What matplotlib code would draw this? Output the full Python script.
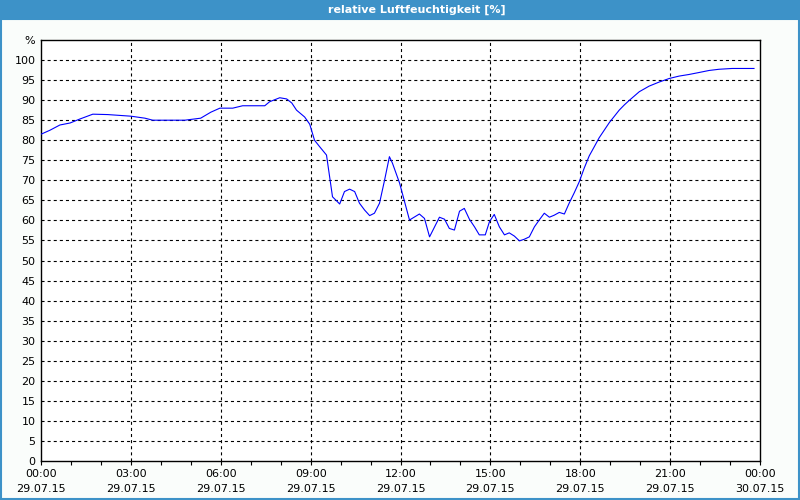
import matplotlib
matplotlib.use("Agg")
import matplotlib.pyplot as plt
from matplotlib.patches import Rectangle

# Relative humidity, 29.07.15 (hours since midnight, %)
hours = [0.0, 0.3, 0.63, 0.97, 1.3, 1.73, 2.23, 3.0, 3.47, 3.73, 4.8, 5.33,
         5.67, 5.97, 6.4, 6.73, 7.47, 7.63, 7.97, 8.2, 8.37, 8.53, 8.8, 8.97,
         9.13, 9.3, 9.53, 9.73, 9.97, 10.13, 10.3, 10.47, 10.63, 10.8, 10.97,
         11.13, 11.3, 11.47, 11.63, 11.73, 11.97, 12.3, 12.63, 12.8, 12.97,
         13.3, 13.47, 13.63, 13.8, 13.97, 14.13, 14.3, 14.47, 14.63, 14.83,
         14.97, 15.13, 15.3, 15.47, 15.63, 15.8, 15.97, 16.13, 16.3, 16.47,
         16.63, 16.8, 16.97, 17.13, 17.3, 17.47, 17.63, 17.8, 17.97, 18.13,
         18.3, 18.47, 18.63, 18.8, 18.97, 19.13, 19.3, 19.47, 19.63, 19.97,
         20.3, 20.63, 20.97, 21.3, 21.63, 21.97, 22.3, 22.63, 23.07, 23.8]
humidity = [81.5, 82.5, 83.8, 84.3, 85.3, 86.5, 86.4, 86.0, 85.5, 85.0, 85.0, 85.5,
            87.0, 88.0, 88.0, 88.6, 88.6, 89.6, 90.6, 90.3, 89.3, 87.5, 85.8, 84.0,
            80.0, 78.4, 76.3, 65.9, 64.1, 67.2, 67.8, 67.2, 64.3, 62.6, 61.2,
            61.8, 64.3, 70.1, 75.9, 74.3, 69.3, 60.1, 61.6, 60.5, 55.9,
            60.8, 60.3, 58.0, 57.6, 62.3, 63.0, 60.3, 58.4, 56.4, 56.4,
            59.7, 61.5, 58.4, 56.4, 56.9, 56.1, 54.9, 55.3, 55.9, 58.4,
            60.1, 61.8, 60.8, 61.3, 62.0, 61.6, 64.3, 66.9, 69.7, 73.0,
            76.1, 78.4, 80.6, 82.5, 84.4, 85.9, 87.5, 88.8, 89.9, 92.1,
            93.5, 94.5, 95.4, 96.0, 96.4, 96.9, 97.4, 97.7, 97.9, 97.9]

x_ticks = [0, 3, 6, 9, 12, 15, 18, 21, 24]
x_labels = ["00:00\n29.07.15", "03:00\n29.07.15", "06:00\n29.07.15",
            "09:00\n29.07.15", "12:00\n29.07.15", "15:00\n29.07.15",
            "18:00\n29.07.15", "21:00\n29.07.15", "00:00\n30.07.15"]
y_ticks = list(range(0, 101, 5)) + [105]
y_labels = [str(v) for v in range(0, 101, 5)] + ["%"]

plt.rcParams['lines.scale_dashes'] = False
plt.rcParams['font.family'] = ['DejaVu Sans']

bg = '#fafdfb'
blue = '#3d92c8'

fig = plt.figure(figsize=(8, 5), dpi=100, facecolor=bg)

# title bar and frame
fig.patches.append(Rectangle((0, 0.96), 1, 0.04, transform=fig.transFigure,
                             facecolor=blue, edgecolor='none', zorder=0))
fig.patches.append(Rectangle((0.0012, 0.002), 0.9976, 0.96, transform=fig.transFigure,
                             facecolor='none', edgecolor=blue, lw=1.5, zorder=0))
fig.text(0.521, 0.98, "relative Luftfeuchtigkeit [%]", color='white',
         fontsize=8, fontweight='bold', ha='center', va='center')

ax = fig.add_axes([41 / 800, 39 / 500, 719 / 800, 421 / 500])
ax.set_facecolor('white')
ax.plot(hours, humidity, color='#0000ff', lw=0.8, zorder=3)

ax.set_xlim(0, 24)
ax.set_ylim(0, 105)
ax.set_xticks(x_ticks)
ax.set_xticklabels(x_labels, fontsize=8, linespacing=1.6)
ax.set_xticks(range(0, 25), minor=True)
ax.set_yticks(y_ticks)
ax.set_yticklabels(y_labels, fontsize=8)

ax.tick_params(axis='y', length=0, pad=4)
ax.tick_params(axis='x', which='both', length=3, width=0.8, direction='out', pad=3)

for v in range(5, 101, 5):
    ax.axhline(v, color='black', lw=0.8, linestyle=(0, (2.2, 2.2)), zorder=1)
for h in range(3, 24, 3):
    ax.axvline(h, color='black', lw=0.8, linestyle=(0, (2.2, 2.2)), zorder=1)

for s in ax.spines.values():
    s.set_linewidth(1.0)
    s.set_color('black')

fig.savefig('out.png', dpi=100, facecolor=bg)
